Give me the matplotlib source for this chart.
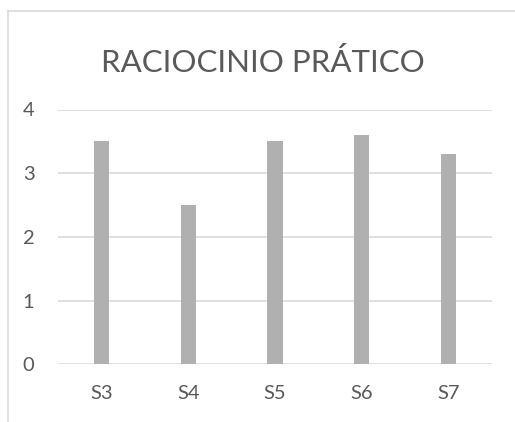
import matplotlib
matplotlib.use("Agg")
import matplotlib.pyplot as plt
from matplotlib.lines import Line2D

categories = ["S3", "S4", "S5", "S6", "S7"]
values = [3.5, 2.5, 3.5, 3.6, 3.3]
y_ticks = [0, 1, 2, 3, 4]
title = "RACIOCINIO PRÁTICO"

W, H, DPI = 515, 422, 100
fig = plt.figure(figsize=(W / DPI, H / DPI), dpi=DPI)
fig.patch.set_facecolor("white")

grid_c = "#D9D9D9"
text_c = "#595959"
bar_c = "#B0B0B0"
font = "Lato"

# chart frame (top and left edges of the chart area)
fig.add_artist(Line2D([7.5 / W, 7.5 / W], [0, 1 - 10.5 / H], transform=fig.transFigure,
                      color=grid_c, lw=1.2))
fig.add_artist(Line2D([7.5 / W, 1], [1 - 10.5 / H, 1 - 10.5 / H], transform=fig.transFigure,
                      color=grid_c, lw=1.2))

left, right = 58 / W, 492 / W
bottom, top = (H - 364.3) / H, (H - 109.5) / H
ax = fig.add_axes([left, bottom, right - left, top - bottom])

x = range(len(categories))
ax.bar(x, values, width=0.173, color=bar_c, zorder=3)
ax.set_xlim(-0.5, len(categories) - 0.5)
ax.set_ylim(0, 4)
ax.set_yticks(y_ticks)
ax.set_xticks(list(x))
ax.set_xticklabels(categories)
ax.grid(axis="y", color=grid_c, lw=1.2, zorder=0)
ax.set_axisbelow(True)
for s in ax.spines.values():
    s.set_visible(False)
ax.tick_params(length=0, colors=text_c, labelsize=14.5)
ax.tick_params(axis="y", pad=17)
ax.tick_params(axis="x", pad=15)
for lbl in ax.get_xticklabels() + ax.get_yticklabels():
    lbl.set_fontfamily(font)
    lbl.set_color(text_c)

fig.text(263 / W, 1 - 63 / H, title, ha="center", va="center", fontsize=22.5,
         color=text_c, family=font)

fig.savefig("out.png", dpi=DPI, facecolor="white")
